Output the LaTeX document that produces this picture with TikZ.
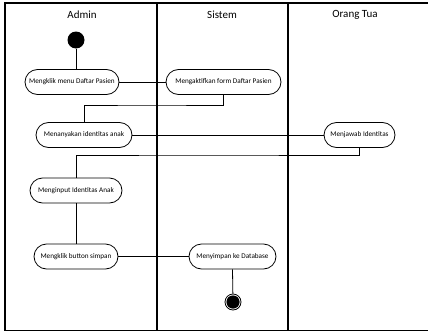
\documentclass[tikz,border=0pt]{standalone}
\usepackage{fontspec}
\setmainfont{Carlito}
\usetikzlibrary{calc}
\begin{document}
\begin{tikzpicture}[x=1pt,y=-1pt,
  lane/.style={line width=1.2pt,black},
  act/.style={draw,line width=0.8pt,rounded corners=12.5pt,minimum height=25pt,
    inner sep=0pt,font=\fontsize{7.2}{8}\selectfont},
  flow/.style={line width=0.8pt},
  title/.style={font=\fontsize{11}{13}\selectfont},
  initial/.style={circle,fill=black,minimum size=17pt,inner sep=0pt},
  final/.style={circle,draw=black,fill=white,line width=0.8pt,minimum size=16pt,inner sep=0pt,
    path picture={\fill[black] (path picture bounding box.center) circle (6.6pt);}}]
  \useasboundingbox (0,0) rectangle (428,332);
  % swimlane frame
  \draw[lane] (428,3) -- (5,3) -- (5,330.5) -- (428,330.5);
  \draw[lane] (157,3) -- (157,330.5);
  \draw[lane] (288,3) -- (288,330.5);
  \node[title] (tadmin) at (82,15) {Admin};
  \node[title] (tsistem) at (222,15) {Sistem};
  \node[title] (tortu) at (355,15) {Orang Tua};
  % activities
  \node[initial] (start) at (76,40) {};
  \node[act,minimum width=94pt] (n1) at (72,82) {Mengklik menu Daftar Pasien};
  \node[act,minimum width=115pt] (n2) at (223.5,82) {Mengaktifkan form Daftar Pasien};
  \node[act,minimum width=96pt] (n3) at (84,135) {Menanyakan identitas anak};
  \node[act,minimum width=71pt] (n4) at (359.5,135) {Menjawab Identitas};
  \node[act,minimum width=92pt] (n5) at (76,190.5) {Menginput Identitas Anak};
  \node[act,minimum width=84pt] (n6) at (76,256.5) {Mengklik button simpan};
  \node[act,minimum width=87pt] (n7) at (232.5,256.5) {Menyimpan ke Database};
  \node[final] (stop) at (233,302) {};
  % bend points
  \coordinate (j1) at (150,105);
  \coordinate (j2) at (200,155);
  % flows
  \draw[flow] (start) -- (start |- n1.north);
  \draw[flow] (n1.east) -- (n2.west);
  \draw[flow] (n2.south) |- (j1) -| (n3.north);
  \draw[flow] (n3.east) -- (n4.west);
  \draw[flow] (n4.south) |- (j2) -| (n5.north);
  \draw[flow] (n5.south) -- (n6.north);
  \draw[flow] (n6.east) -- (n7.west);
  \draw[flow] (n7.south) -- (stop);
\end{tikzpicture}
\end{document}
